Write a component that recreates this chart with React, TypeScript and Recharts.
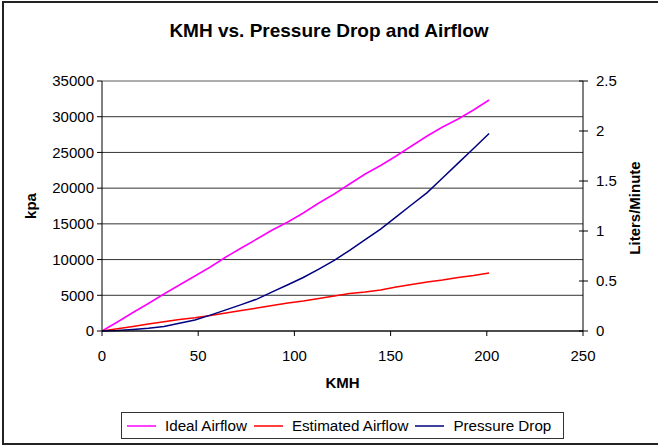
import {
  LineChart,
  Line,
  XAxis,
  YAxis,
  CartesianGrid,
  ReferenceLine,
  Legend,
  Label,
} from "recharts";

// speed points (km/h)
const kmh = [
  0, 8, 16.1, 24.1, 32.2, 40.2, 48.3, 56.3, 64.4, 72.4, 80.5, 88.5, 96.6,
  104.6, 112.7, 120.7, 128.7, 136.8, 144.8, 152.9, 160.9, 169, 177, 185.1,
  193.1, 201.2,
];

// liters / minute (right axis)
const idealAirflow = [
  0, 0.09, 0.185, 0.275, 0.37, 0.46, 0.55, 0.64, 0.74, 0.83, 0.92, 1.01, 1.09,
  1.18, 1.28, 1.37, 1.47, 1.57, 1.655, 1.75, 1.85, 1.95, 2.04, 2.12, 2.21,
  2.31,
];
const estimatedAirflow = [
  0, 0.023, 0.046, 0.07, 0.093, 0.116, 0.133, 0.155, 0.18, 0.205, 0.23, 0.255,
  0.28, 0.3, 0.325, 0.35, 0.375, 0.39, 0.41, 0.44, 0.465, 0.49, 0.51, 0.535,
  0.555, 0.58,
];

// kpa (left axis)
const pressureDrop = [
  0, 80, 220, 390, 640, 1090, 1545, 2220, 2960, 3690, 4465, 5470, 6480, 7490,
  8660, 9900, 11290, 12780, 14270, 15970, 17680, 19370, 21410, 23500, 25560,
  27660,
];

const seriesNames = ["Ideal Airflow", "Estimated Airflow", "Pressure Drop"];
const seriesColors = ["#ff00ff", "#ff0000", "#000080"];

const xTicks = [0, 50, 100, 150, 200, 250];
const kpaTicks = [0, 5000, 10000, 15000, 20000, 25000, 30000, 35000];
const lpmTicks = [0, 0.5, 1, 1.5, 2, 2.5];

const FONT = "'Liberation Sans', Arial, sans-serif";

const data = kmh.map((k, i) => ({
  kmh: k,
  ideal: idealAirflow[i],
  estimated: estimatedAirflow[i],
  pressure: pressureDrop[i],
}));

const tickStyle = { fill: "#000", fontSize: 15, fontFamily: FONT };

function RightTick(props: any) {
  const { x, y, payload } = props;
  // axis line sits 13px left of the label (tickSize 5 + tickMargin 8); Excel "cross" tick marks
  return (
    <g>
      <line x1={x - 17} x2={x - 8} y1={y} y2={y} stroke="#000" />
      <text x={x} y={y} dy={5} fontSize={15} fontFamily={FONT} fill="#000">
        {payload.value}
      </text>
    </g>
  );
}

function LegendBox() {
  return (
    <div
      style={{
        boxSizing: "border-box",
        width: "100%",
        height: "100%",
        border: "1px solid #333",
        display: "flex",
        alignItems: "center",
        paddingLeft: 5,
        fontFamily: FONT,
        fontSize: 15.2,
        color: "#000",
        background: "#fff",
        whiteSpace: "nowrap",
        overflow: "hidden",
      }}
    >
      {seriesNames.map((name, i) => (
        <div
          key={name}
          style={{ display: "flex", alignItems: "center", marginRight: 7, flexShrink: 0 }}
        >
          <svg width={29} height={4} style={{ marginRight: 9, display: "block" }}>
            <line x1={0} x2={29} y1={2} y2={2} stroke={seriesColors[i]} strokeWidth={1.5} />
          </svg>
          <span>{name}</span>
        </div>
      ))}
    </div>
  );
}

export default function App() {
  return (
    <div
      style={{
        position: "fixed",
        top: 0,
        left: 0,
        width: 658,
        height: 446,
        overflow: "hidden",
        background: "#fff",
      }}
    >
      <div
        style={{
          position: "absolute",
          left: 2,
          top: 1,
          width: 720,
          height: 444,
          border: "2px solid #222",
          boxSizing: "border-box",
        }}
      />
      <div
        style={{
          position: "absolute",
          left: 0,
          top: 19,
          width: 658,
          height: 24,
          lineHeight: "24px",
          textAlign: "center",
          fontFamily: FONT,
          fontWeight: "bold",
          fontSize: 19,
          color: "#000",
        }}
      >
        KMH vs. Pressure Drop and Airflow
      </div>
      <div style={{ position: "absolute", left: 0, top: 0 }}>
        <LineChart
          width={658}
          height={446}
          data={data}
          margin={{ top: 81, right: 0, bottom: 55, left: 0 }}
        >
          <CartesianGrid yAxisId="left" vertical={false} stroke="#333" />
          <XAxis
            dataKey="kmh"
            type="number"
            domain={[0, 250]}
            ticks={xTicks}
            interval={0}
            height={60}
            tick={tickStyle}
            tickSize={5}
            tickMargin={14}
            stroke="#000"
          >
            <Label
              content={(p: any) => {
                const vb = p.viewBox;
                return (
                  <text
                    x={vb.x + vb.width / 2}
                    y={vb.y + 57}
                    textAnchor="middle"
                    fontFamily={FONT}
                    fontWeight="bold"
                    fontSize={15}
                    fill="#000"
                  >
                    KMH
                  </text>
                );
              }}
            />
          </XAxis>
          <YAxis
            yAxisId="left"
            domain={[0, 35000]}
            ticks={kpaTicks}
            interval={0}
            width={102}
            tick={tickStyle}
            tickSize={5}
            tickMargin={3}
            stroke="#000"
          >
            <Label
              content={(p: any) => {
                const vb = p.viewBox;
                const cx = vb.x + 30;
                const cy = vb.y + vb.height / 2;
                return (
                  <text
                    x={cx}
                    y={cy}
                    transform={`rotate(-90 ${cx} ${cy})`}
                    textAnchor="middle"
                    dominantBaseline="central"
                    fontFamily={FONT}
                    fontWeight="bold"
                    fontSize={15}
                    fill="#000"
                  >
                    kpa
                  </text>
                );
              }}
            />
          </YAxis>
          <YAxis
            yAxisId="right"
            orientation="right"
            domain={[0, 2.5]}
            ticks={lpmTicks}
            interval={0}
            width={75}
            tick={<RightTick />}
            tickLine={false}
            tickSize={5}
            tickMargin={8}
            stroke="#000"
          >
            <Label
              content={(p: any) => {
                const vb = p.viewBox;
                const cx = vb.x + 51;
                const cy = vb.y + vb.height / 2 + 2;
                return (
                  <text
                    x={cx}
                    y={cy}
                    transform={`rotate(-90 ${cx} ${cy})`}
                    textAnchor="middle"
                    dominantBaseline="central"
                    fontFamily={FONT}
                    fontWeight="bold"
                    fontSize={15}
                    fill="#000"
                  >
                    Liters/Minute
                  </text>
                );
              }}
            />
          </YAxis>
          <ReferenceLine yAxisId="left" y={35000} stroke="#c0c0c0" />
          <Legend
            verticalAlign="middle"
            layout="horizontal"
            wrapperStyle={{ left: 121, top: 412, width: 443, height: 27 }}
            content={<LegendBox />}
          />
          <Line
            yAxisId="right"
            type="linear"
            dataKey="ideal"
            name={seriesNames[0]}
            stroke={seriesColors[0]}
            strokeWidth={1.5}
            dot={false}
            isAnimationActive={false}
          />
          <Line
            yAxisId="right"
            type="linear"
            dataKey="estimated"
            name={seriesNames[1]}
            stroke={seriesColors[1]}
            strokeWidth={1.5}
            dot={false}
            isAnimationActive={false}
          />
          <Line
            yAxisId="left"
            type="linear"
            dataKey="pressure"
            name={seriesNames[2]}
            stroke={seriesColors[2]}
            strokeWidth={1.5}
            dot={false}
            isAnimationActive={false}
          />
        </LineChart>
      </div>
    </div>
  );
}
